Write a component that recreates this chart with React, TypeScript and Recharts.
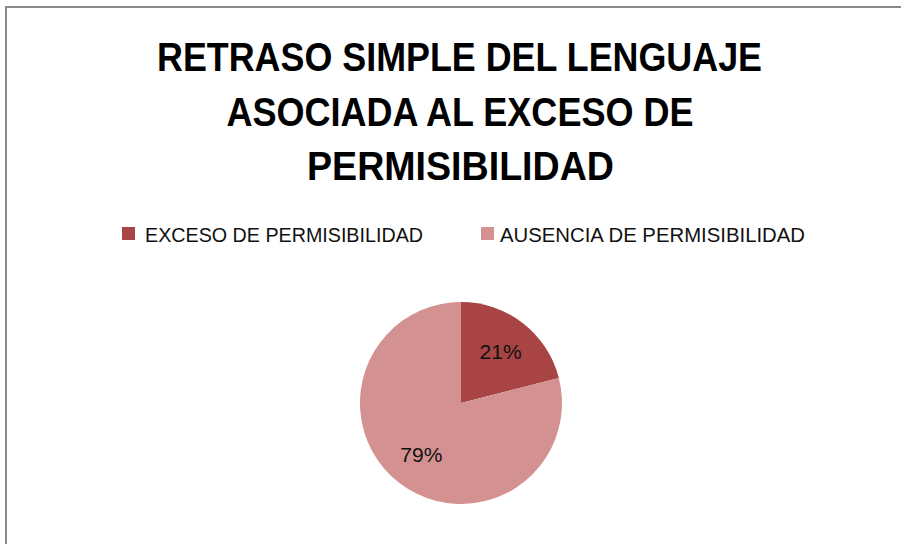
import React from "react";
import { PieChart, Pie, Cell } from "recharts";

const categories = ["EXCESO DE PERMISIBILIDAD", "AUSENCIA DE PERMISIBILIDAD"];
const values = [21, 79];
const colors = ["#A84444", "#D49191"];
const titleLines = ["RETRASO SIMPLE DEL LENGUAJE", "ASOCIADA AL EXCESO DE", "PERMISIBILIDAD"];

const data = categories.map((name, i) => ({ name, value: values[i] }));
const total = values.reduce((a, b) => a + b, 0);

const RAD = Math.PI / 180;
const renderLabel = (props: any) => {
  const { cx, cy, midAngle, outerRadius, value } = props;
  const r = outerRadius * 0.64;
  const x = cx + r * Math.cos(-midAngle * RAD);
  const y = cy + r * Math.sin(-midAngle * RAD);
  return (
    <text x={x} y={y} textAnchor="middle" dominantBaseline="central" fill="#111" fontSize={21} fontFamily="'Liberation Sans', Arial, sans-serif">
      {Math.round((value / total) * 100) + "%"}
    </text>
  );
};

export default function App() {
  return (
    <div style={{ position: "absolute", left: 0, top: 0, width: 901, height: 544, background: "#fff", overflow: "hidden" }}>
      <div style={{ position: "absolute", left: 5, top: 6, width: 896, height: 2, background: "#8a8a8a" }} />
      <div style={{ position: "absolute", left: 5, top: 6, width: 2, height: 538, background: "#8a8a8a" }} />
      <svg width={901} height={260} style={{ position: "absolute", left: 0, top: 0 }}>
        {titleLines.map((t, i) => (
          <text
            key={i}
            x={[157, 0, 307][i] || 0}
            y={71 + i * 54.5}
            textAnchor="start"
            fontFamily="'Liberation Sans', Arial, sans-serif"
            fontWeight="bold"
            fontSize={40}
            fill="#000"
            textLength={[605, 467, 307][i]}
            lengthAdjust="spacingAndGlyphs"
            {...(i === 1 ? { x: 460, textAnchor: "middle" } : {})}
          >
            {t}
          </text>
        ))}
        {data.map((d, i) => (
          <g key={d.name}>
            <rect x={i === 0 ? 122 : 481} y={227} width={13} height={13} fill={colors[i]} />
            <text
              x={i === 0 ? 145 : 500}
              y={242}
              fontFamily="'Liberation Sans', Arial, sans-serif"
              fontSize={19.5}
              fill="#111"
              textLength={i === 0 ? 278 : 305}
              lengthAdjust="spacingAndGlyphs"
            >
              {d.name}
            </text>
          </g>
        ))}
      </svg>
      <div style={{ position: "absolute", left: 0, top: 0 }}>
        <PieChart width={901} height={544} margin={{ top: 0, right: 0, bottom: 0, left: 0 }}>
          <Pie
            data={data}
            dataKey="value"
            nameKey="name"
            cx={461}
            cy={403}
            outerRadius={101}
            startAngle={90}
            endAngle={-270}
            stroke="none"
            label={renderLabel}
            labelLine={false}
            isAnimationActive={false}
          >
            {data.map((d, i) => (
              <Cell key={d.name} fill={colors[i]} />
            ))}
          </Pie>
        </PieChart>
      </div>
    </div>
  );
}
